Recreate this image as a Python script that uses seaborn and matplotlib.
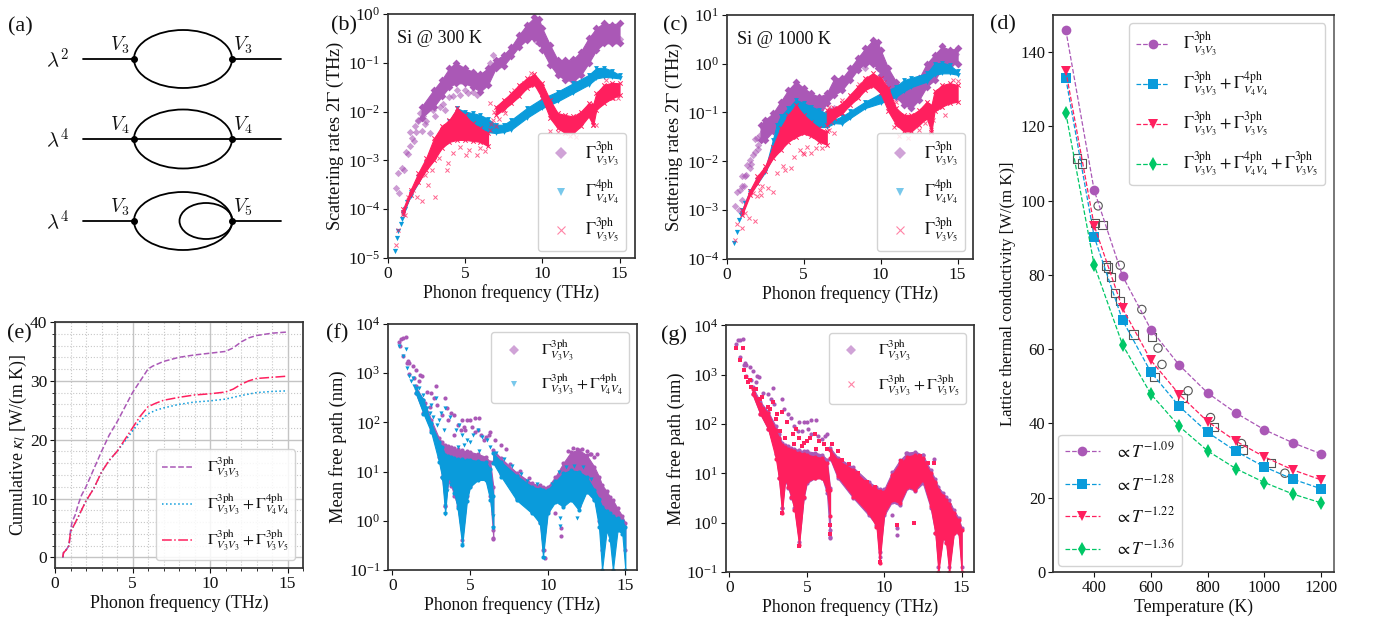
import numpy as np
import matplotlib
matplotlib.use("Agg")
import matplotlib.pyplot as plt
from matplotlib.lines import Line2D
from matplotlib.patches import Ellipse
from matplotlib.ticker import MultipleLocator
import seaborn as sns

sns.set_theme(style="ticks")
plt.rcParams["font.family"] = ["Liberation Serif", "DejaVu Serif"]
plt.rcParams["mathtext.fontset"] = "stix"
plt.rcParams["axes.edgecolor"] = "#333333"
plt.rcParams["xtick.color"] = "#111111"
plt.rcParams["ytick.color"] = "#111111"
plt.rcParams["text.color"] = "#111111"
plt.rcParams["axes.labelcolor"] = "#111111"

PURPLE = "#AA58B6"
BLUE = "#0A9BDB"
RED = "#FF1F5E"
GREEN = "#00C766"
W, H = 1374, 621

G33 = r"$\Gamma^{\rm 3ph}_{V_3V_3}$"
G44 = r"$\Gamma^{\rm 4ph}_{V_4V_4}$"
G35 = r"$\Gamma^{\rm 3ph}_{V_3V_5}$"
G33_44 = r"$\Gamma^{\rm 3ph}_{V_3V_3}+\Gamma^{\rm 4ph}_{V_4V_4}$"
G33_35 = r"$\Gamma^{\rm 3ph}_{V_3V_3}+\Gamma^{\rm 3ph}_{V_3V_5}$"
G_all = r"$\Gamma^{\rm 3ph}_{V_3V_3}+\Gamma^{\rm 4ph}_{V_4V_4}+\Gamma^{\rm 3ph}_{V_3V_5}$"

# (b) 300 K scattering rates, log10 values
b_p_f = [2.2, 3, 3.5, 4, 4.4, 5, 5.5, 6, 6.5, 7, 7.5, 8, 8.5, 9, 9.5, 9.8, 10, 10.5, 11, 11.5, 12, 12.5, 13, 13.5, 14, 14.5, 15]
b_p_hi = [-1.9, -1.55, -1.35, -1.11, -1.0, -1.11, -1.18, -1.23, -1.11, -0.94, -0.84, -0.67, -0.43, -0.22, -0.07, -0.11, -0.29, -0.63, -0.94, -0.95, -0.93, -0.77, -0.5, -0.29, -0.18, -0.22, -0.18]
b_p_lo = [-2.13, -1.9, -1.69, -1.49, -1.42, -1.42, -1.49, -1.59, -1.45, -1.11, -1.06, -0.87, -0.67, -0.53, -0.5, -0.6, -0.74, -1.04, -1.25, -1.35, -1.38, -1.25, -1.01, -0.74, -0.6, -0.6, -0.6]
b_p_sf = [0.54, 0.77, 0.71, 0.92, 1.08, 1.2, 1.46, 1.35, 1.57, 1.46, 1.94, 2.1, 1.85, 2.32, 2.75, 2.97, 3.4, 3.72, 4.26, 4.69, 5.2, 5.76, 6.84, 6.4, 6.6, 7.27, 2.5, 3.1, 3.6, 4.0, 4.5, 5.0, 5.5, 1.7, 1.75, 2.0, 2.2, 2.4, 12.0, 12.4, 9.2, 9.6, 15.0]
b_p_sv = [-3.57, -3.66, -3.25, -3.16, -3.19, -2.82, -2.71, -2.86, -2.54, -2.41, -2.17, -2.03, -2.41, -2.1, -2.44, -1.96, -1.9, -1.96, -1.69, -1.66, -1.62, -1.66, -0.84, -1.18, -1.01, -1.04, -2.2, -2.1, -1.85, -1.7, -1.55, -1.55, -1.6, -2.6, -2.3, -2.2, -2.4, -2.25, -1.5, -1.45, -0.45, -0.55, -0.52]
b_b_f = [1, 1.5, 2, 2.5, 3, 3.5, 4, 4.5, 5, 5.5, 6, 6.5, 7, 7.5, 8, 9, 10, 11, 12, 13, 13.5, 14, 14.5, 15]
b_b_hi = [-4.05, -3.65, -3.35, -3.05, -2.75, -2.4, -2.2, -1.93, -2, -2.03, -2.07, -2.15, -2.27, -2.27, -2.17, -1.93, -1.73, -1.59, -1.42, -1.25, -1.11, -1.1, -1.16, -1.25]
b_b_lo = [-4.1, -3.72, -3.45, -3.15, -2.9, -2.7, -2.6, -2.5, -2.45, -2.4, -2.4, -2.42, -2.44, -2.42, -2.37, -2.13, -1.93, -1.79, -1.62, -1.45, -1.32, -1.29, -1.3, -1.32]
b_b_sf = [0.48, 0.6, 0.7, 0.85, 0.95, 1.1, 1.25]
b_b_sv = [-4.85, -4.6, -4.45, -4.3, -4.2, -4.0, -3.85]
b_r1_f = [1, 1.5, 2, 2.5, 3, 3.5, 4, 4.5, 5, 5.5, 6, 6.5]
b_r1_hi = [-4.0, -3.6, -3.25, -2.95, -2.55, -2.3, -2.17, -1.93, -2.07, -2.24, -2.34, -2.44]
b_r1_lo = [-4.1, -3.7, -3.45, -3.2, -3, -2.75, -2.62, -2.58, -2.58, -2.6, -2.62, -2.71]
b_r2_f = [7, 7.5, 8, 8.5, 9, 9.5, 10, 10.5, 11, 11.5, 12, 12.5, 13, 13.3, 13.5, 14, 14.5, 15]
b_r2_hi = [-1.9, -1.76, -1.62, -1.45, -1.32, -1.23, -1.42, -1.76, -2.03, -2.07, -2.1, -2, -1.83, -1.85, -1.62, -1.45, -1.41, -1.42]
b_r2_lo = [-2.07, -1.96, -1.83, -1.69, -1.52, -1.45, -1.73, -2.13, -2.34, -2.44, -2.44, -2.3, -2.1, -2.28, -1.96, -1.83, -1.73, -1.66]
b_r_sf = [0.54, 0.71, 0.99, 1.68, 1.89, 2.2, 3.07, 2.65, 3.83, 3.94, 4.26, 5.1, 5.76, 6.62, 6.8, 6.62, 10.5, 11.8, 11.35, 13.5, 14.6, 13.3, 7.0, 6.9, 7.2, 6.7, 4.7, 5.3, 3.3, 2.9, 2.4, 8.2, 8.8, 9.3, 11.0, 12.2, 14.1, 14.9, 1.3, 1.1, 7.6, 6.3, 6.0]
b_r_sv = [-4.73, -4.42, -4.05, -3.6, -3.74, -3.84, -3.74, -3.5, -3.19, -3.06, -2.85, -2.88, -2.88, -1.83, -2.17, -2.37, -2.4, -2.51, -2.34, -2.27, -1.73, -2.27, -2.3, -2.0, -2.15, -2.25, -2.72, -2.78, -2.95, -3.2, -3.3, -1.55, -1.42, -1.2, -2.42, -2.52, -1.35, -1.72, -3.75, -4.12, -2.03, -2.8, -2.75]

# (c) 1000 K scattering rates
c_p_f = [2.2, 2.5, 3, 3.5, 4, 4.5, 5, 5.5, 6, 6.5, 7, 7.5, 8, 8.5, 9, 9.5, 9.8, 10, 10.5, 11, 11.5, 12, 12.5, 13, 13.5, 14, 14.5, 15]
c_p_hi = [-1.25, -1.15, -1.02, -0.78, -0.54, -0.37, -0.5, -0.61, -0.68, -0.61, -0.3, -0.3, -0.1, 0.11, 0.31, 0.48, 0.45, 0.28, -0.1, -0.37, -0.5, -0.5, -0.3, 0.0, 0.18, 0.35, 0.28, 0.31]
c_p_lo = [-1.56, -1.56, -1.39, -1.19, -1.05, -0.98, -1.02, -1.05, -1.08, -0.81, -0.64, -0.54, -0.34, -0.13, 0.0, 0.0, -0.1, -0.23, -0.47, -0.68, -0.85, -0.91, -0.74, -0.47, -0.34, -0.1, -0.03, 0.0]
c_p_sf = [0.54, 0.69, 0.86, 0.82, 0.97, 0.97, 0.97, 1.25, 1.33, 1.5, 1.5, 1.83, 1.68, 2.04, 1.94, 2.15, 2.37, 1.1, 1.6, 1.2, 1.85, 2.05, 6.7, 7.0, 9.0, 14.9]
c_p_sv = [-2.92, -2.62, -2.58, -2.99, -2.31, -2.51, -2.79, -2.28, -2.07, -1.97, -2.14, -1.8, -1.87, -1.66, -1.53, -1.46, -1.39, -2.5, -2.05, -2.3, -1.55, -1.75, -0.95, -0.9, -0.1, 0.2]
c_b_f = [1, 1.5, 2, 2.5, 3, 3.25, 3.5, 4, 4.5, 5, 5.5, 6, 6.5, 7, 7.5, 8, 9, 10, 11, 11.5, 12, 13, 13.5, 14, 14.5, 15]
c_b_hi = [-3.0, -2.6, -2.38, -2.17, -1.56, -1.25, -1.08, -0.91, -0.74, -0.81, -0.88, -0.95, -1.02, -1.15, -1.08, -0.98, -0.78, -0.61, -0.47, -0.34, -0.29, -0.2, 0.0, 0.02, -0.03, -0.16]
c_b_lo = [-3.05, -2.65, -2.45, -2.22, -1.9, -1.72, -1.6, -1.4, -1.3, -1.3, -1.3, -1.3, -1.3, -1.22, -1.23, -1.12, -0.91, -0.81, -0.68, -0.57, -0.48, -0.37, -0.23, -0.2, -0.2, -0.23]
c_b_sf = [0.48, 0.65, 0.8, 0.9, 1.2]
c_b_sv = [-3.67, -3.45, -3.2, -3.1, -2.85]
c_r1_f = [1, 1.5, 2, 2.5, 3, 3.5, 4, 4.5, 5, 5.5, 6, 6.5]
c_r1_hi = [-3.0, -2.6, -2.3, -2.1, -1.7, -1.32, -1.05, -0.85, -1.05, -1.19, -1.32, -1.39]
c_r1_lo = [-3.1, -2.7, -2.45, -2.2, -1.94, -1.77, -1.6, -1.5, -1.43, -1.49, -1.6, -1.66]
c_r2_f = [6.5, 7, 7.5, 8, 8.5, 9, 9.5, 10, 10.5, 11, 11.5, 12, 12.5, 13, 13.3, 13.5, 14, 14.5, 15]
c_r2_hi = [-0.95, -0.91, -0.81, -0.64, -0.47, -0.3, -0.2, -0.3, -0.5, -0.91, -1.05, -1.05, -0.95, -0.78, -0.85, -0.57, -0.44, -0.4, -0.44]
c_r2_lo = [-1.25, -1.12, -1.02, -0.85, -0.71, -0.54, -0.46, -0.61, -0.98, -1.25, -1.39, -1.39, -1.25, -1.12, -1.4, -0.98, -0.88, -0.81, -0.78]
c_r_sf = [0.54, 0.69, 0.97, 1.46, 1.83, 1.72, 2.15, 2.26, 2.32, 3.0, 2.7, 3.27, 3.66, 3.76, 4.19, 4.73, 4.95, 5.5, 5.8, 6.67, 6.77, 7.0, 6.67, 13.3, 13.4, 11.2, 11.8, 12.5, 14.2, 2.0, 1.2, 4.4, 5.2, 5.0, 6.2, 7.5, 8.6, 10.2, 11.0, 12.9, 14.7, 15.0, 10.9, 13.6]
c_r_sv = [-3.62, -3.28, -3.37, -3.16, -3.23, -2.65, -2.58, -2.68, -2.51, -2.62, -2.55, -2.24, -2.09, -2.17, -2.14, -1.77, -1.83, -1.83, -1.73, -0.88, -1.19, -1.43, -1.36, -1.36, -1.15, -1.49, -1.53, -1.36, -1.05, -2.72, -3.05, -1.92, -1.7, -1.85, -1.72, -0.75, -0.42, -0.38, -0.78, -1.22, -0.33, -0.35, -1.3, -0.9]

# (d) lattice thermal conductivity
temps = [300, 400, 500, 600, 700, 800, 900, 1000, 1100, 1200]
kappa_3 = [146, 102.8, 79.7, 65.3, 55.7, 48.2, 42.8, 38.3, 34.8, 31.8]
kappa_34 = [133, 90.3, 67.8, 53.8, 44.6, 37.6, 32.5, 28.3, 25.0, 22.4]
kappa_35 = [135, 93.3, 71, 57, 47.8, 40.5, 35.2, 31, 27.5, 24.8]
kappa_345 = [123.7, 82.7, 61.2, 47.9, 39.2, 32.6, 27.8, 24.1, 21, 18.6]
circ_t = [414, 492, 568, 625, 639, 731, 810, 919, 1072]
circ_k = [98.6, 82.6, 70.7, 60.3, 55.9, 48.8, 41.6, 34.6, 26.6]
sq_t = [339, 358, 402, 429, 442, 449, 460, 473, 491, 539, 604, 613, 711, 822, 925, 1023]
sq_k = [111.4, 110, 94, 93.4, 82.5, 82, 79.4, 75.2, 73, 64, 63.2, 52.6, 46.9, 39, 33, 29.3]
exp_labels = [r"$\propto T^{-1.09}$", r"$\propto T^{-1.28}$", r"$\propto T^{-1.22}$", r"$\propto T^{-1.36}$"]

# (e) cumulative kappa
e_f3 = [0.5, 0.55, 0.7, 0.9, 1, 1.1, 1.3, 1.5, 1.7, 2, 2.5, 3, 3.5, 4, 4.5, 5, 5.5, 6, 6.3, 7, 8, 9, 10, 11, 11.5, 12, 12.5, 13, 14, 15]
e_k3 = [0, 0.8, 1.2, 2, 4.5, 6, 7.2, 9, 10.5, 12, 15, 18, 20.8, 23, 25.5, 28, 30, 32, 32.5, 33.3, 34, 34.4, 34.7, 35, 35.6, 36.6, 37.3, 37.7, 38.1, 38.3]
e_f34 = [0.5, 0.55, 0.7, 0.9, 1, 1.5, 2, 2.5, 3, 3.5, 4, 4.5, 5, 5.5, 6, 6.5, 7, 8, 9, 10, 11, 12, 13, 14, 15]
e_k34 = [0, 0.8, 1.2, 2, 4.3, 6.9, 9.6, 11.7, 14.5, 16.5, 18, 19.7, 21.5, 23.2, 24.4, 25, 25.4, 26, 26.4, 26.6, 26.9, 27.5, 28, 28.2, 28.3]
e_f35 = [0.5, 0.55, 0.7, 0.9, 1, 1.5, 2, 2.5, 3, 3.5, 4, 4.5, 5, 5.5, 6, 6.5, 7, 8, 9, 10, 11, 11.5, 12, 12.5, 13, 14, 15]
e_k35 = [0, 0.8, 1.2, 2, 4.3, 6.9, 9.6, 11.7, 14.5, 16.5, 18, 20, 22, 24, 25.6, 26.2, 26.7, 27.2, 27.6, 27.8, 28.1, 28.6, 29.4, 30, 30.4, 30.6, 30.8]

# (f) mean free path, log10 nm
mfp_f1 = [1.5, 2, 2.5, 3, 3.2, 3.4, 3.6, 3.8, 4, 4.2, 4.5, 4.8, 5, 5.5, 6, 6.3, 6.5]
mfp_f2 = [6.5, 7, 8, 9, 9.5, 9.7, 10, 10.5, 11, 11.5, 12, 12.5, 13, 13.3, 13.5, 13.8, 14, 14.2, 14.5, 14.8, 15]
f_p1_hi = [2.73, 2.46, 2.05, 1.68, 1.6, 1.54, 1.52, 1.5, 1.47, 1.45, 1.43, 1.41, 1.4, 1.36, 1.3, 1.2, 0.69]
f_p1_lo = [2.6, 2.2, 1.85, 1.3, 0.9, 0.3, 0.8, 0.7, 0.5, 0.3, -0.39, 0.5, 0.7, 0.85, 0.85, 0.5, -0.36]
f_b1_hi = [2.7, 2.46, 1.98, 1.61, 1.5, 1.34, 1.32, 1.3, 1.27, 1.26, 1.25, 1.24, 1.24, 1.22, 1.2, 1.05, 0.5]
f_b1_lo = [2.6, 2.18, 1.8, 1.2, 0.9, 0.15, 0.9, 0.75, 0.56, 0.25, -0.49, 0.4, 0.69, 0.83, 0.83, 0.42, -0.12]
f_p2_hi = [1.44, 1.27, 0.98, 0.76, 0.72, 0.69, 0.69, 0.9, 1.17, 1.4, 1.44, 1.34, 1.1, 0.9, 0.73, 0.6, 0.49, 0.42, 0.25, 0.1, -0.05]
f_p2_lo = [1.2, 0.95, 0.45, 0.18, -0.03, -0.6, 0.2, 0.42, 0.32, 0.5, 0.3, 0.6, 0.45, 0.0, -0.6, -0.1, -0.2, -0.6, 0.0, -0.1, -0.6]
f_b2_hi = [1.37, 1.2, 0.92, 0.69, 0.65, 0.63, 0.63, 0.8, 0.97, 1.03, 1.0, 0.9, 0.63, 0.45, 0.29, 0.2, 0.15, 0.1, 0.05, 0.0, -0.12]
f_b2_lo = [1.17, 0.9, 0.42, 0.15, -0.05, -0.73, 0.15, 0.39, 0.29, 0.42, 0.22, 0.59, 0.42, -0.12, -1, -0.19, -0.39, -1, -0.19, -0.26, -1]
f_p_sf = [0.45, 0.55, 0.7, 0.9, 0.5, 0.7, 0.95, 1.0, 1.1, 1.3, 1.5, 1.8, 1.9, 1.1, 1.4, 1.7, 2.2, 2.5, 2.8, 2.7, 2.9, 3.4, 3.5, 3.8, 4.0, 4.5, 4.8, 5.0, 5.3, 5.6, 4.2, 4.4, 4.7, 5.1, 5.3, 5.7, 6.0, 6.2, 6.3, 6.6, 7.0, 7.3, 4.0, 5.9, 6.5, 6.5, 3.4, 10.85, 10.85, 10.5, 13.2, 13.0, 12.8, 9.75, 9.8, 11.3, 11.6, 11.9, 12.2, 12.5, 12.7, 2.1, 2.4, 3.2, 3.6, 4.6, 5.5, 7.6, 8.2, 8.8]
f_p_sv = [3.63, 3.7, 3.71, 3.73, 3.55, 3.35, 3.2, 3.24, 3.2, 3.15, 3.07, 2.97, 2.95, 2.98, 2.9, 2.85, 2.62, 2.6, 2.73, 2.5, 2.35, 2.5, 2.3, 2.2, 2.15, 2.05, 2.05, 2.05, 2.08, 2.08, 1.95, 1.85, 1.85, 1.9, 1.8, 1.75, 1.7, 1.75, 1.8, 1.65, 1.55, 1.45, 1.75, 1.65, -0.35, -0.18, 0.3, -0.3, -0.15, 0.15, 1.35, 1.3, 1.35, -0.6, -0.75, 1.42, 1.47, 1.46, 1.45, 1.42, 1.36, 2.4, 2.32, 2.15, 2.05, 1.9, 1.85, 1.15, 1.02, 0.86]
f_b_sf = [0.45, 0.7, 0.9, 0.95, 1.1, 1.3, 1.4, 1.7, 2.0, 2.5, 2.8, 3.1, 3.4, 3.7, 4.1, 4.3, 4.5, 4.8, 5.2, 5.5, 5.8, 6.1, 6.3, 3.4, 4.5, 6.5, 3.4, 6.5, 10.8, 11.9, 9.75, 10.8, 1.2, 1.6, 2.2, 2.4, 2.1, 2.6, 2.9, 3.0, 3.3, 4.2, 4.6, 5.0, 5.6, 6.7, 7.2, 7.7, 8.3, 8.7, 9.3, 10.7, 11.2, 11.7, 12.3, 12.8, 10.3, 3.5, 3.2]
f_b_sv = [3.55, 3.35, 3.5, 3.1, 2.95, 2.9, 2.75, 2.7, 2.55, 2.35, 2.5, 2.2, 2.3, 2.1, 1.85, 1.95, 1.75, 1.65, 1.75, 1.85, 1.7, 1.65, 1.5, 0.14, -0.49, -0.15, 0.3, 0.1, -0.1, 0.05, -0.75, 0.05, 2.85, 2.6, 2.3, 2.2, 2.2, 2.1, 1.95, 2.05, 1.85, 1.5, 1.55, 1.6, 1.42, 1.38, 1.25, 1.12, 0.96, 0.8, 0.75, 1.0, 1.1, 1.12, 1.1, 0.85, 0.75, 0.6, 0.85]

# (g) mean free path, log10 nm
g_p1_hi = [2.75, 2.45, 2.25, 1.95, 1.8, 1.62, 1.58, 1.55, 1.52, 1.5, 1.47, 1.45, 1.45, 1.42, 1.38, 1.28, 0.7]
g_p1_lo = [2.6, 2.2, 1.9, 1.4, 0.9, 0.3, 0.85, 0.7, 0.5, 0.3, -0.4, 0.5, 0.8, 0.9, 0.9, 0.6, -0.3]
g_r1_hi = [2.7, 2.4, 2.22, 1.88, 1.72, 1.58, 1.53, 1.5, 1.48, 1.45, 1.42, 1.4, 1.38, 1.34, 1.31, 1.2, 0.67]
g_r1_lo = [2.6, 2.2, 1.9, 1.3, 0.9, 0.2, 0.87, 0.73, 0.53, 0.26, -0.45, 0.53, 0.84, 0.9, 0.9, 0.67, 0.13]
g_p2_hi = [1.52, 1.32, 1.12, 0.83, 0.72, 0.69, 0.68, 1.02, 1.26, 1.42, 1.44, 1.37, 1.06, 0.88, 0.72, 0.6, 0.52, 0.45, 0.25, 0.1, -0.1]
g_p2_lo = [1.3, 0.9, 0.5, 0.15, -0.05, -0.7, 0.15, 0.42, 0.35, 0.7, 0.65, 0.8, 0.3, -0.2, -0.9, -0.3, -0.4, -0.9, -0.2, -0.2, -0.9]
g_r2_hi = [1.48, 1.27, 1.07, 0.77, 0.67, 0.65, 0.63, 0.97, 1.2, 1.34, 1.38, 1.31, 1.0, 0.82, 0.67, 0.55, 0.46, 0.38, 0.19, 0.05, -0.14]
g_r2_lo = [1.31, 0.94, 0.53, 0.19, -0.08, -0.82, 0.19, 0.46, 0.4, 0.73, 0.67, 0.87, 0.33, -0.2, -1, -0.3, -0.41, -1, -0.2, -0.2, -1]
g_p_sf = [0.45, 0.55, 0.7, 0.9, 0.7, 0.95, 1.0, 1.1, 1.3, 1.5, 1.8, 1.9, 1.1, 1.4, 1.7, 2.2, 2.5, 2.8, 2.7, 2.9, 3.4, 3.5, 3.8, 4.0, 4.5, 4.8, 5.0, 5.3, 5.6, 4.2, 4.4, 4.7, 5.1, 5.3, 5.7, 6.0, 6.2, 6.3, 6.5, 6.5, 3.4, 10.85, 10.85, 10.5, 13.2, 9.75, 11.4, 12.0, 12.5]
g_p_sv = [3.63, 3.7, 3.7, 3.72, 3.35, 3.2, 3.24, 3.2, 3.15, 3.07, 2.97, 2.95, 2.98, 2.9, 2.85, 2.62, 2.6, 2.73, 2.5, 2.4, 2.5, 2.3, 2.2, 2.12, 2.05, 2.05, 2.05, 2.08, 2.08, 1.95, 1.85, 1.85, 1.9, 1.8, 1.75, 1.7, 1.75, 1.8, -0.15, -0.32, 0.3, -0.25, -0.1, 0.15, 1.3, -0.6, 1.42, 1.42, 1.38]
g_r_sf = [0.45, 0.7, 0.9, 0.95, 1.1, 1.3, 1.4, 1.7, 2.0, 2.5, 2.8, 3.1, 3.4, 3.7, 4.1, 4.3, 4.5, 4.8, 5.2, 5.5, 5.8, 6.1, 6.3, 6.6, 7.0, 3.4, 4.5, 6.5, 6.5, 10.8, 11.9, 9.75, 13.2, 1.2, 1.6, 2.2, 2.4, 2.1, 2.6, 3.0, 3.3, 3.6, 4.2, 4.7, 5.0, 5.6, 7.3, 7.7, 8.3, 8.9, 9.4, 10.6, 11.1, 12.3, 12.8]
g_r_sv = [3.55, 3.3, 3.55, 3.1, 2.95, 2.9, 2.75, 2.7, 2.5, 2.35, 2.45, 2.2, 2.25, 2.05, 1.8, 1.9, 1.72, 1.62, 1.72, 1.8, 1.65, 1.6, 1.5, 1.6, 1.45, 0.2, -0.47, -0.22, -0.05, -0.05, 0.0, -0.8, 1.2, 2.85, 2.6, 2.3, 2.2, 2.55, 2.3, 2.1, 1.85, 1.72, 1.6, 1.55, 1.65, 1.5, 1.28, 1.18, 1.0, 0.82, 0.72, 0.95, 1.25, 1.36, 1.2]


def px_axes(left, top, right, bottom):
    return fig.add_axes([left / W, 1 - bottom / H, (right - left) / W, (bottom - top) / H])


def band(ax, f, lo, hi, color, marker="o", s=9):
    ax.fill_between(f, 10.0 ** np.array(lo), 10.0 ** np.array(hi), color=color, lw=0.8)
    # the corners get markers too, so the band reads like a point cloud
    lw = 0.7 if marker == "x" else 0
    sns.scatterplot(x=f, y=10.0 ** np.array(hi), color=color, marker=marker, s=s, linewidth=lw, ax=ax)
    sns.scatterplot(x=f, y=10.0 ** np.array(lo), color=color, marker=marker, s=s, linewidth=lw, ax=ax)


def dots(ax, f, v, color, marker, s, alpha=1.0):
    sns.scatterplot(x=f, y=10.0 ** np.array(v), color=color, marker=marker, s=s, alpha=alpha, linewidth=0 if marker != "x" else 0.7, ax=ax)


def cloud_handle(color, marker, ms=6):
    return Line2D([], [], ls="none", marker=marker, color=color, alpha=0.55, ms=ms, mew=0.8 if marker == "x" else 0)


def finish_log(ax, xlim, ylim, ylabel):
    ax.set_yscale("log")
    ax.set_xlim(*xlim)
    ax.set_ylim(*ylim)
    ax.set_xticks([0, 5, 10, 15])
    ax.set_xlabel("Phonon frequency (THz)", fontsize=12.7, labelpad=2)
    ax.set_ylabel(ylabel, fontsize=13.3, labelpad=1)
    ax.tick_params(axis="both", which="major", labelsize=12.5, length=3.5, width=0.8, pad=2)
    ax.tick_params(axis="y", which="minor", length=0)


fig = plt.figure(figsize=(W / 100, H / 100), dpi=100, facecolor="white")

# (a) diagrams
ax_a = fig.add_axes([0, 0, 325 / W, 1])
ax_a.set_xlim(0, 325)
ax_a.set_ylim(H, 0)
ax_a.axis("off")
row_y = [59, 139, 221]
row_h = [58, 59, 58]
row_order = [r"$\lambda^2$", r"$\lambda^4$", r"$\lambda^4$"]
left_vertex = [r"$V_3$", r"$V_4$", r"$V_3$"]
right_vertex = [r"$V_3$", r"$V_4$", r"$V_5$"]
for i, y in enumerate(row_y):
    ax_a.add_patch(Ellipse((183, y), 98, row_h[i], fill=False, ec="black", lw=1.3))
    ax_a.plot([83, 134], [y, y], color="black", lw=1.3)
    ax_a.plot([232, 281], [y, y], color="black", lw=1.3)
    ax_a.plot([134, 232], [y, y], "o", color="black", ms=4)
    ax_a.text(58, y + 1, row_order[i], fontsize=15, ha="center", va="center", math_fontfamily="cm")
    ax_a.text(120, y - 14, left_vertex[i], fontsize=14, ha="center", va="center", math_fontfamily="cm")
    ax_a.text(243, y - 14, right_vertex[i], fontsize=14, ha="center", va="center", math_fontfamily="cm")
ax_a.plot([134, 232], [row_y[1], row_y[1]], color="black", lw=1.3)
ax_a.add_patch(Ellipse((206, row_y[2]), 53, 36, fill=False, ec="black", lw=1.3))

# (b)
ax_b = px_axes(387.5, 14, 635, 258)
dots(ax_b, b_p_sf, b_p_sv, PURPLE, "D", 14, 0.6)
band(ax_b, b_p_f, b_p_lo, b_p_hi, PURPLE, "D", 16)
band(ax_b, b_b_f, b_b_lo, b_b_hi, BLUE, "v", 12)
dots(ax_b, b_b_sf, b_b_sv, BLUE, "v", 14)
band(ax_b, b_r1_f, b_r1_lo, b_r1_hi, RED, "x", 10)
band(ax_b, b_r2_f, b_r2_lo, b_r2_hi, RED, "x", 10)
dots(ax_b, b_r_sf, b_r_sv, RED, "x", 9, 0.7)
finish_log(ax_b, (0, 16), (1e-5, 1), r"Scattering rates 2$\Gamma$ (THz)")
ax_b.text(0.04, 0.90, "Si @ 300 K", transform=ax_b.transAxes, fontsize=13, va="center")

# (c)
ax_c = px_axes(726.7, 14.7, 973, 259)
dots(ax_c, c_p_sf, c_p_sv, PURPLE, "D", 14, 0.6)
band(ax_c, c_p_f, c_p_lo, c_p_hi, PURPLE, "D", 16)
band(ax_c, c_b_f, c_b_lo, c_b_hi, BLUE, "v", 12)
dots(ax_c, c_b_sf, c_b_sv, BLUE, "v", 14)
band(ax_c, c_r1_f, c_r1_lo, c_r1_hi, RED, "x", 10)
band(ax_c, c_r2_f, c_r2_lo, c_r2_hi, RED, "x", 10)
dots(ax_c, c_r_sf, c_r_sv, RED, "x", 9, 0.7)
finish_log(ax_c, (0, 16), (1e-4, 10), r"Scattering rates 2$\Gamma$ (THz)")
ax_c.text(0.04, 0.90, "Si @ 1000 K", transform=ax_c.transAxes, fontsize=13, va="center")

for ax_s, right_edge in [(ax_b, 626), (ax_c, 965)]:
    pos = ax_s.get_position()
    ax_s.legend(
        handles=[cloud_handle(PURPLE, "D"), cloud_handle(BLUE, "v"), cloud_handle(RED, "x")],
        labels=[G33, G44, G35],
        fontsize=12,
        loc="lower right",
        bbox_to_anchor=((right_edge / W - pos.x0) / pos.width, (1 - 251 / H - pos.y0) / pos.height),
        borderaxespad=0,
        labelspacing=0.62,
        handlelength=2.0,
        handletextpad=0.4,
        borderpad=0.4,
        framealpha=0.85,
    )

# (d)
ax_d = px_axes(1053, 15, 1334, 572)
curves = [kappa_3, kappa_34, kappa_35, kappa_345]
colors = [PURPLE, BLUE, RED, GREEN]
markers = ["o", "s", "v", "d"]
for vals, col, mk in zip(curves, colors, markers):
    sns.lineplot(x=temps, y=vals, color=col, linestyle="--", linewidth=0.9, marker=mk, markersize=7, markeredgewidth=0, errorbar=None, ax=ax_d)
sns.scatterplot(x=circ_t, y=circ_k, marker="o", s=36, facecolor="none", edgecolor="#555555", linewidth=0.8, ax=ax_d)
sns.scatterplot(x=sq_t, y=sq_k, marker="s", s=36, facecolor="none", edgecolor="#555555", linewidth=0.8, ax=ax_d)
ax_d.set_xlim(255, 1245)
ax_d.set_ylim(0, 150)
ax_d.set_xticks([400, 600, 800, 1000, 1200])
ax_d.set_yticks([0, 20, 40, 60, 80, 100, 120, 140])
ax_d.set_xlabel("Temperature (K)", fontsize=12.8, labelpad=2)
ax_d.set_ylabel("Lattice thermal conductivity [W/(m K)]", fontsize=12, labelpad=3)
ax_d.tick_params(axis="both", labelsize=12, length=3.5, width=0.8, pad=2)
ax_d.spines["right"].set_color("#777777")
ax_d.spines["right"].set_linewidth(1.4)
curve_handles = [
    Line2D([], [], color=c, ls="--", lw=0.9, marker=m, ms=7, mew=0) for c, m in zip(colors, markers)
]
leg1 = ax_d.legend(
    curve_handles,
    [G33, G33_44, G33_35, G_all],
    fontsize=12,
    loc="upper right",
    bbox_to_anchor=(0.968, 0.985),
    borderaxespad=0,
    labelspacing=0.72,
    handlelength=2.0,
    handletextpad=0.8,
    framealpha=0.85,
)
ax_d.add_artist(leg1)
ax_d.legend(
    curve_handles,
    exp_labels,
    fontsize=12.5,
    loc="lower left",
    bbox_to_anchor=(0.018, 0.011),
    borderaxespad=0,
    labelspacing=0.72,
    handlelength=2.0,
    handletextpad=0.9,
    framealpha=0.85,
)

# (e)
ax_e = px_axes(55, 322, 303, 568)
sns.lineplot(x=e_f3, y=e_k3, color=PURPLE, linestyle="--", linewidth=1.1, errorbar=None, ax=ax_e)
sns.lineplot(x=e_f34, y=e_k34, color=BLUE, linestyle=":", linewidth=1.1, errorbar=None, ax=ax_e)
sns.lineplot(x=e_f35, y=e_k35, color=RED, linestyle="-.", linewidth=1.1, errorbar=None, ax=ax_e)
ax_e.set_xlim(0, 16)
ax_e.set_ylim(-1.8, 40)
ax_e.set_xticks([0, 5, 10, 15])
ax_e.set_yticks([0, 10, 20, 30, 40])
ax_e.xaxis.set_minor_locator(MultipleLocator(1))
ax_e.yaxis.set_minor_locator(MultipleLocator(2))
ax_e.grid(True, which="major", color="#c4c4c4", lw=1.0)
ax_e.grid(True, which="minor", color="#c8c8c8", lw=0.8, ls=":")
ax_e.set_axisbelow(True)
ax_e.set_xlabel("Phonon frequency (THz)", fontsize=12.9, labelpad=2)
ax_e.set_ylabel(r"Cumulative $\kappa_l$ [W/(m K)]", fontsize=12.9, labelpad=1)
ax_e.tick_params(axis="both", which="major", labelsize=12.5, length=3.5, width=0.8, pad=2)
ax_e.tick_params(axis="both", which="minor", length=2, width=0.6)
ax_e.legend(
    handles=[
        Line2D([], [], color=PURPLE, ls="--", lw=1.1),
        Line2D([], [], color=BLUE, ls=":", lw=1.1),
        Line2D([], [], color=RED, ls="-.", lw=1.1),
    ],
    labels=[G33, G33_44, G33_35],
    fontsize=11.5,
    loc="lower right",
    bbox_to_anchor=(0.968, 0.033),
    borderaxespad=0,
    labelspacing=0.78,
    handlelength=2.0,
    handletextpad=0.8,
    framealpha=0.85,
)

# (f)
ax_f = px_axes(388, 324, 637, 570)
dots(ax_f, f_p_sf, f_p_sv, PURPLE, "o", 9)
band(ax_f, mfp_f1, f_p1_lo, f_p1_hi, PURPLE)
band(ax_f, mfp_f2, f_p2_lo, f_p2_hi, PURPLE)
band(ax_f, mfp_f1, f_b1_lo, f_b1_hi, BLUE)
band(ax_f, mfp_f2, f_b2_lo, f_b2_hi, BLUE)
dots(ax_f, f_b_sf, f_b_sv, BLUE, "v", 9)
finish_log(ax_f, (-0.28, 15.75), (0.1, 1e4), "Mean free path (nm)")
ax_f.legend(
    handles=[cloud_handle(PURPLE, "D", 5), cloud_handle(BLUE, "v", 5)],
    labels=[G33, G33_44],
    fontsize=11.5,
    loc="upper right",
    bbox_to_anchor=(0.968, 0.967),
    borderaxespad=0,
    labelspacing=0.62,
    handlelength=2.0,
    handletextpad=0.7,
    framealpha=0.85,
)

# (g)
ax_g = px_axes(725.7, 325.3, 974, 572)
dots(ax_g, g_p_sf, g_p_sv, PURPLE, "o", 9)
band(ax_g, mfp_f1, g_p1_lo, g_p1_hi, PURPLE)
band(ax_g, mfp_f2, g_p2_lo, g_p2_hi, PURPLE)
band(ax_g, mfp_f1, g_r1_lo, g_r1_hi, RED)
band(ax_g, mfp_f2, g_r2_lo, g_r2_hi, RED)
dots(ax_g, g_r_sf, g_r_sv, RED, "s", 7)
finish_log(ax_g, (-0.24, 15.8), (0.1, 1e4), "Mean free path (nm)")
ax_g.legend(
    handles=[cloud_handle(PURPLE, "D", 5), cloud_handle(RED, "x", 5)],
    labels=[G33, G33_35],
    fontsize=11.5,
    loc="upper right",
    bbox_to_anchor=(0.968, 0.97),
    borderaxespad=0,
    labelspacing=0.62,
    handlelength=2.0,
    handletextpad=0.7,
    framealpha=0.85,
)

# panel letters
panel_tags = ["(a)", "(b)", "(c)", "(d)", "(e)", "(f)", "(g)"]
tag_x = [8, 331, 663, 990, 7, 326, 661]
tag_y = [27, 26, 26, 25, 334, 334, 335]
for tag, tx, ty in zip(panel_tags, tag_x, tag_y):
    fig.text(tx / W, 1 - ty / H, tag, fontsize=16, va="center", ha="left")

fig.savefig("out.png", dpi=100, facecolor="white")
